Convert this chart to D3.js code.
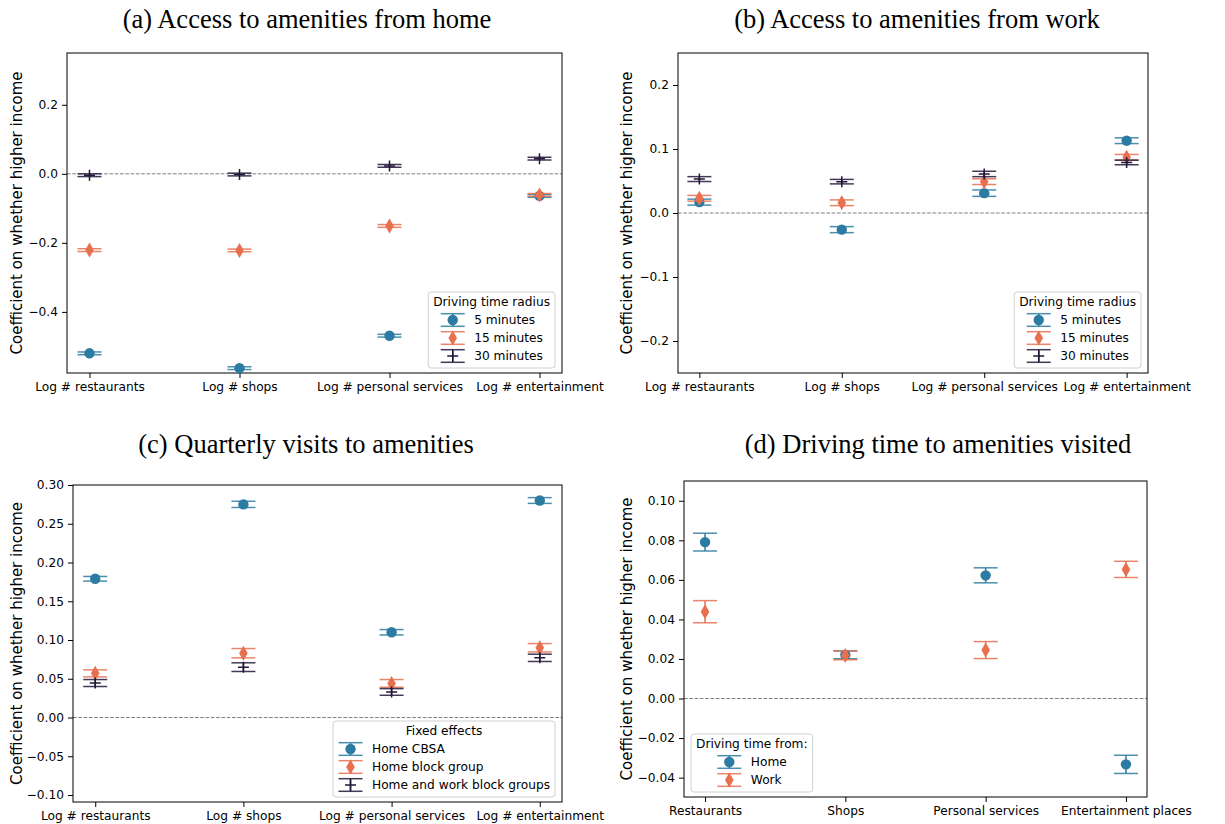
<!DOCTYPE html>
<html>
<head>
<meta charset="utf-8">
<script src="https://cdn.jsdelivr.net/npm/d3@7"></script>
<style>
  body { margin: 0; background: #fff; }
  text { font-family: "DejaVu Sans", sans-serif; }
</style>
</head>
<body>
<script>
// ---- data ----
var catsLog = ["Log # restaurants", "Log # shops", "Log # personal services", "Log # entertainment"];
var catsPlaces = ["Restaurants", "Shops", "Personal services", "Entertainment places"];

// (a) access from home
var aNames = ["5 minutes", "15 minutes", "30 minutes"];
var a5 = [-0.520, -0.563, -0.469, -0.064];
var a15 = [-0.221, -0.222, -0.151, -0.061];
var a30 = [-0.004, -0.002, 0.023, 0.044];
var aErr5 = [0.004, 0.004, 0.004, 0.004];
var aErr15 = [0.004, 0.004, 0.004, 0.004];
var aErr30 = [0.004, 0.004, 0.004, 0.004];
var aTicks = [-0.4, -0.2, 0.0, 0.2];

// (b) access from work
var b5 = [0.017, -0.026, 0.031, 0.113];
var b15 = [0.023, 0.016, 0.049, 0.087];
var b30 = [0.053, 0.049, 0.061, 0.079];
var bErr5 = [0.0047, 0.0047, 0.005, 0.0045];
var bErr15 = [0.0045, 0.0045, 0.0045, 0.0045];
var bErr30 = [0.0038, 0.0035, 0.0042, 0.0036];
var bTicks = [-0.2, -0.1, 0.0, 0.1, 0.2];

// (c) quarterly visits
var cNames = ["Home CBSA", "Home block group", "Home and work block groups"];
var cCbsa = [0.179, 0.275, 0.110, 0.280];
var cBlock = [0.057, 0.083, 0.044, 0.090];
var cBoth = [0.0445, 0.065, 0.033, 0.077];
var cErrCbsa = [0.003, 0.004, 0.0035, 0.0037];
var cErrBlock = [0.0045, 0.006, 0.005, 0.0054];
var cErrBoth = [0.0045, 0.0056, 0.0043, 0.0047];
var cTicks = [-0.10, -0.05, 0.00, 0.05, 0.10, 0.15, 0.20, 0.25, 0.30];

// (d) driving time to visited amenities
var dNames = ["Home", "Work"];
var dHome = [0.0791, 0.0221, 0.0623, -0.0333];
var dWork = [0.0439, 0.0218, 0.0245, 0.0653];
var dErrHome = [0.0045, 0.0020, 0.0038, 0.0046];
var dErrWork = [0.0056, 0.0022, 0.0043, 0.0041];
var dTicks = [-0.04, -0.02, 0.00, 0.02, 0.04, 0.06, 0.08, 0.10];

var blue = "#2b7ba2", orange = "#e8704f", dark = "#221639";
var fs = "12.2px";

var svg = d3.select("body").append("svg")
    .attr("width", 1225)
    .attr("height", 824)
    .style("display", "block");

var panels = [
  {title: "(a) Access to amenities from home", tx: 307, ty: 28,
   box: {l: 67, t: 53, r: 562, b: 373}, ylab: 17,
   dom: [-0.577, 0.35], ticks: aTicks, fmt: ".1f", cats: catsLog,
   legTitle: "Driving time radius", legPos: "lr", names: aNames,
   series: [[a5, aErr5], [a15, aErr15], [a30, aErr30]]},
  {title: "(b) Access to amenities from work", tx: 917, ty: 28,
   box: {l: 678, t: 53, r: 1148, b: 373}, ylab: 627,
   dom: [-0.25, 0.25], ticks: bTicks, fmt: ".1f", cats: catsLog,
   legTitle: "Driving time radius", legPos: "lr", names: aNames,
   series: [[b5, bErr5], [b15, bErr15], [b30, bErr30]]},
  {title: "(c) Quarterly visits to amenities", tx: 306, ty: 453,
   box: {l: 73, t: 485, r: 562, b: 802}, ylab: 17,
   dom: [-0.109, 0.30], ticks: cTicks, fmt: ".2f", cats: catsLog,
   legTitle: "Fixed effects", legPos: "lr", names: cNames,
   series: [[cCbsa, cErrCbsa], [cBlock, cErrBlock], [cBoth, cErrBoth]]},
  {title: "(d) Driving time to amenities visited", tx: 938, ty: 453,
   box: {l: 684, t: 481, r: 1147, b: 797}, ylab: 627,
   dom: [-0.0498, 0.110], ticks: dTicks, fmt: ".2f", cats: catsPlaces,
   legTitle: "Driving time from:", legPos: "ll", names: dNames,
   series: [[dHome, dErrHome], [dWork, dErrWork]]}
];

var colors = [blue, orange, dark];
var shapes = ["circle", "diamond", "plus"];

function drawMarker(g, shape, color) {
  if (shape == "circle") {
    g.append("circle").attr("r", 5.2).attr("fill", color);
  } else if (shape == "diamond") {
    g.append("path").attr("d", "M0,-7.5L4.3,0L0,7.5L-4.3,0Z").attr("fill", color);
  } else {
    g.append("path").attr("d", "M-5.5,0H5.5M0,-5.5V5.5")
        .attr("stroke", color).attr("stroke-width", 1.5).attr("fill", "none");
  }
}

function fmtNum(f) {
  var ff = d3.format(f);
  return function(d) { return ff(d).replace("-", "\u2212"); };
}

panels.forEach(function(p) {
  var B = p.box;
  var x = d3.scaleLinear().domain([-0.15, 3.15]).range([B.l, B.r]);
  var y = d3.scaleLinear().domain(p.dom).range([B.b, B.t]);
  var g = svg.append("g");

  // title
  svg.append("text")
      .attr("x", p.tx).attr("y", p.ty)
      .attr("text-anchor", "middle")
      .style("font-family", "'Liberation Serif', serif")
      .style("font-size", "26.5px")
      .text(p.title);

  // zero line
  g.append("line")
      .attr("x1", B.l).attr("x2", B.r)
      .attr("y1", y(0)).attr("y2", y(0))
      .attr("stroke", "#808080").attr("stroke-width", 1)
      .attr("stroke-dasharray", "3.7,1.6");

  // axes
  var yAxis = d3.axisLeft(y).tickValues(p.ticks).tickSize(5).tickPadding(4).tickFormat(fmtNum(p.fmt));
  var gy = g.append("g").attr("transform", "translate(" + B.l + ",0)").call(yAxis);
  gy.select(".domain").remove();
  gy.selectAll("text").style("font-size", fs).attr("fill", "#000");

  var xAxis = d3.axisBottom(x).tickValues([0, 1, 2, 3]).tickSize(5).tickPadding(4)
      .tickFormat(function(d) { return p.cats[d]; });
  var gx = g.append("g").attr("transform", "translate(0," + B.b + ")").call(xAxis);
  gx.select(".domain").remove();
  gx.selectAll("text").style("font-size", fs).attr("fill", "#000");

  g.append("rect")
      .attr("x", B.l).attr("y", B.t)
      .attr("width", B.r - B.l).attr("height", B.b - B.t)
      .attr("fill", "none").attr("stroke", "#000").attr("stroke-width", 1);

  svg.append("text")
      .attr("transform", "translate(" + p.ylab + "," + ((B.t + B.b) / 2) + ") rotate(-90)")
      .attr("text-anchor", "middle")
      .attr("dy", "0.35em")
      .style("font-size", "15px")
      .text("Coefficient on whether higher income");

  // error bars and markers
  p.series.forEach(function(s, si) {
    var vals = s[0], errs = s[1], col = colors[si];
    var sg = g.append("g");
    var pts = sg.selectAll("g.pt").data(vals).enter().append("g").attr("class", "pt");
    pts.append("line")
        .attr("x1", function(d, i) { return x(i); })
        .attr("x2", function(d, i) { return x(i); })
        .attr("y1", function(d, i) { return y(d - errs[i]); })
        .attr("y2", function(d, i) { return y(d + errs[i]); })
        .attr("stroke", col).attr("stroke-width", 1.5);
    [-1, 1].forEach(function(sgn) {
      pts.append("line")
          .attr("x1", function(d, i) { return x(i) - 12; })
          .attr("x2", function(d, i) { return x(i) + 12; })
          .attr("y1", function(d, i) { return y(d + sgn * errs[i]); })
          .attr("y2", function(d, i) { return y(d + sgn * errs[i]); })
          .attr("stroke", col).attr("stroke-width", 1.5).attr("stroke-opacity", 0.85);
    });
    pts.each(function(d, i) {
      var mg = d3.select(this).append("g")
          .attr("transform", "translate(" + x(i) + "," + y(d) + ")");
      drawMarker(mg, shapes[si], col);
    });
  });

  // legend: title and entry column are centred, like matplotlib
  var lg = svg.append("g");
  var frame = lg.append("rect");
  var tt = lg.append("text").attr("text-anchor", "middle").style("font-size", fs).text(p.legTitle);
  var labels = [];
  p.names.forEach(function(n) {
    labels.push(lg.append("text").style("font-size", fs).attr("dy", "0.35em").text(n));
  });
  var maxW = d3.max(labels, function(t) { return t.node().getComputedTextLength(); });
  var entW = 25 + 9 + maxW;
  var lw = Math.max(entW, tt.node().getComputedTextLength()) + 10;
  var lh = 40 + 18 * (p.names.length - 1);
  var lx = p.legPos == "lr" ? B.r - 7 - lw : B.l + 7;
  var ly = B.b - 5 - lh;
  var ex = lx + (lw - entW) / 2;
  frame.attr("x", lx).attr("y", ly).attr("width", lw).attr("height", lh)
      .attr("rx", 3).attr("fill", "#fff").attr("fill-opacity", 0.8)
      .attr("stroke", "#d0d0d0").attr("stroke-width", 1);
  tt.attr("x", lx + lw / 2).attr("y", ly + 10).attr("dy", "0.35em");
  labels.forEach(function(t, i) {
    var cy = ly + 28 + 18 * i;
    t.attr("x", ex + 34).attr("y", cy);
    var col = colors[i];
    var hx = ex + 12.5;
    lg.append("line").attr("x1", hx).attr("x2", hx).attr("y1", cy - 6.3).attr("y2", cy + 6.3)
        .attr("stroke", col).attr("stroke-width", 1.5);
    [-6.3, 6.3].forEach(function(o) {
      lg.append("line").attr("x1", hx - 12).attr("x2", hx + 12).attr("y1", cy + o).attr("y2", cy + o)
          .attr("stroke", col).attr("stroke-width", 1.5).attr("stroke-opacity", 0.85);
    });
    var mg = lg.append("g").attr("transform", "translate(" + hx + "," + cy + ")");
    drawMarker(mg, shapes[i], col);
  });
});
</script>
</body>
</html>
